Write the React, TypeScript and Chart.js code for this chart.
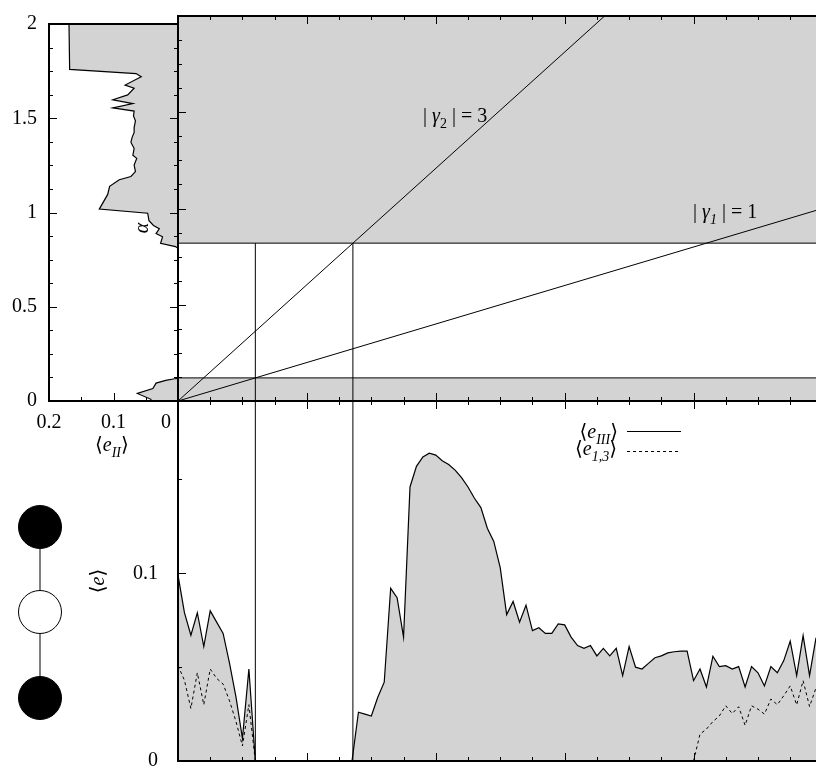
import React, { useEffect, useRef } from "react";
import { Chart, registerables } from "chart.js";
Chart.register(...registerables);

const W = 816;
const H = 769;
const HC = 810; // bottom-panel canvas is a little taller than the page; the extra part is clipped
const FONT = '"Liberation Serif", "Times New Roman", "DejaVu Serif", serif';
const GRAY = "rgb(211,211,211)";
const BLACK = "#000";
const FS = 20;

// ---- shared horizontal axis (main + bottom panels)
const X_MIN = 0;
const X_MAX = 4.95;
const X_MINOR = 0.25;
const X_MAJOR = 1;

// ---- alpha axis
const ALPHA_MIN = 0;
const ALPHA_MAX = 2;
const ALPHA_MINOR = 0.125;
const ALPHA_MAJOR = 0.5;
const alphaTickLabels = [0, 0.5, 1, 1.5, 2];

// shaded alpha bands
const bandLowTop = 0.12;
const bandHighBottom = 0.82;

// |gamma| = const lines (end points)
const gamma1X = [0, 4.95];
const gamma1Y = [0, 0.99];
const gamma2X = [0, 3.31];
const gamma2Y = [0, 2.0];

// vertical guide lines (x positions)
const guideX = [0.6, 1.357];

// ---- left panel <e_II>(alpha)
const E2_MIN = 0;
const E2_MAX = 0.2;
const E2_MINOR = 0.05;
const E2_MAJOR = 0.1;
const e2TickLabels = [0.2, 0.1];
const eIIAlpha = [2.0, 1.759, 1.737, 1.72, 1.676, 1.659, 1.624, 1.598, 1.578, 1.555, 1.538, 1.512, 1.486, 1.45, 1.425, 1.4, 1.373, 1.339, 1.304, 1.287, 1.252, 1.217, 1.191, 1.174, 1.139, 1.096, 1.018, 0.996, 0.957, 0.931, 0.914, 0.888, 0.871, 0.836, 0.819, 0.81, 0.12, 0.118, 0.109, 0.095, 0.066, 0.04, 0.009, 0.0];
const eIIValue = [0.169, 0.168, 0.065, 0.057, 0.082, 0.068, 0.078, 0.101, 0.07, 0.101, 0.068, 0.069, 0.066, 0.068, 0.068, 0.071, 0.073, 0.068, 0.07, 0.064, 0.068, 0.066, 0.073, 0.091, 0.106, 0.109, 0.122, 0.047, 0.045, 0.038, 0.029, 0.034, 0.024, 0.027, 0.004, 0, 0, 0.005, 0.019, 0.034, 0.039, 0.063, 0.042, 0.042];

// ---- bottom panel <e>
const E_MIN = 0;
const E_MAX = 0.1918;
const E_MINOR = 0.05;
const E_MAJOR = 0.1;
const eTickLabels = [0, 0.1];

const eIIIx = [0.0, 0.05, 0.1, 0.15, 0.2, 0.25, 0.3, 0.35, 0.4, 0.45, 0.5, 0.55, 0.6, 1.35, 1.4, 1.45, 1.5, 1.55, 1.6, 1.65, 1.7, 1.75, 1.8, 1.85, 1.9, 1.95, 2.0, 2.05, 2.1, 2.15, 2.2, 2.25, 2.3, 2.35, 2.4, 2.45, 2.5, 2.55, 2.6, 2.65, 2.7, 2.75, 2.8, 2.85, 2.9, 2.95, 3.0, 3.05, 3.1, 3.15, 3.2, 3.25, 3.3, 3.35, 3.4, 3.45, 3.5, 3.55, 3.6, 3.65, 3.7, 3.75, 3.8, 3.85, 3.9, 3.95, 4.0, 4.05, 4.1, 4.15, 4.2, 4.25, 4.3, 4.35, 4.4, 4.45, 4.5, 4.55, 4.6, 4.65, 4.7, 4.75, 4.8, 4.85, 4.9, 4.95];
const eIIIy = [0.099, 0.079, 0.067, 0.079, 0.061, 0.08, 0.074, 0.068, 0.052, 0.034, 0.012, 0.049, 0.0, 0.0, 0.026, 0.025, 0.024, 0.034, 0.042, 0.092, 0.087, 0.066, 0.146, 0.157, 0.162, 0.164, 0.163, 0.16, 0.158, 0.155, 0.151, 0.146, 0.14, 0.135, 0.124, 0.117, 0.103, 0.078, 0.085, 0.074, 0.083, 0.0695, 0.071, 0.068, 0.068, 0.073, 0.0725, 0.066, 0.0615, 0.06, 0.0615, 0.056, 0.06, 0.056, 0.06, 0.0455, 0.061, 0.05, 0.049, 0.052, 0.055, 0.056, 0.0576, 0.0582, 0.0585, 0.0585, 0.0428, 0.049, 0.0394, 0.0558, 0.0503, 0.0508, 0.049, 0.0503, 0.0394, 0.0503, 0.047, 0.04, 0.0503, 0.047, 0.0535, 0.0638, 0.0455, 0.0668, 0.0455, 0.0656];

const e13x = [0.0, 0.05, 0.1, 0.15, 0.2, 0.25, 0.3, 0.35, 0.4, 0.45, 0.5, 0.55, 0.6, 2.0, 4.0, 4.05, 4.1, 4.15, 4.2, 4.25, 4.3, 4.35, 4.4, 4.45, 4.5, 4.55, 4.6, 4.65, 4.7, 4.75, 4.8, 4.85, 4.9, 4.95];
const e13y = [0.0508, 0.043, 0.028, 0.047, 0.03, 0.049, 0.044, 0.041, 0.032, 0.021, 0.008, 0.03, 0.0, null, 0.0, 0.0143, 0.017, 0.021, 0.024, 0.0294, 0.0253, 0.0289, 0.019, 0.0294, 0.0276, 0.025, 0.033, 0.03, 0.0348, 0.04, 0.0299, 0.0428, 0.029, 0.039];

// ---------------------------------------------------------------------------
type Seg = { t: string; it?: boolean; sub?: boolean };

function drawRich(ctx: any, segs: Seg[], x: number, y: number, size: number, align: "left" | "right" | "center") {
  const subSize = Math.round(size * 0.72);
  const font = (s: Seg) => `${s.it ? "italic " : ""}${s.sub ? subSize : size}px ${FONT}`;
  let total = 0;
  const widths = segs.map((s) => {
    ctx.font = font(s);
    const w = ctx.measureText(s.t).width;
    total += w;
    return w;
  });
  let cx = align === "left" ? x : align === "right" ? x - total : x - total / 2;
  ctx.textAlign = "left";
  ctx.textBaseline = "alphabetic";
  ctx.fillStyle = BLACK;
  segs.forEach((s, i) => {
    ctx.font = font(s);
    ctx.fillText(s.t, cx, y + (s.sub ? size * 0.28 : 0));
    cx += widths[i];
  });
}

const isStep = (v: number, s: number) => Math.abs(v / s - Math.round(v / s)) < 1e-6;
const inList = (v: number, arr: number[]) => arr.some((a) => Math.abs(a - v) < 1e-6);
const fmt = (v: number) => String(+Number(v).toFixed(3));
const pts = (xs: number[], ys: (number | null)[]) => xs.map((x, i) => ({ x, y: ys[i] }));

type FrameCfg = {
  sides: string[];
  xTicks: string[];
  yTicks: string[];
  xStep: number;
  xMajor: number;
  yStep: number;
  yMajor: number;
};

function framePlugin(cfg: FrameCfg) {
  return {
    id: "frameTicks",
    afterDatasetsDraw(chart: any) {
      const { ctx, chartArea: a, scales } = chart;
      const xs = scales.x;
      const ys = scales.y;
      ctx.save();
      ctx.strokeStyle = BLACK;
      ctx.lineWidth = 1;
      ctx.beginPath();
      for (const t of xs.ticks) {
        const v = t.value;
        if (!isStep(v, cfg.xStep)) continue;
        const p = Math.round(xs.getPixelForValue(v)) + 0.5;
        if (p < a.left - 1 || p > a.right + 1) continue;
        const len = isStep(v, cfg.xMajor) ? 8 : 4;
        if (cfg.xTicks.includes("bottom")) {
          ctx.moveTo(p, a.bottom);
          ctx.lineTo(p, a.bottom - len);
        }
        if (cfg.xTicks.includes("top")) {
          ctx.moveTo(p, a.top);
          ctx.lineTo(p, a.top + len);
        }
      }
      for (const t of ys.ticks) {
        const v = t.value;
        if (!isStep(v, cfg.yStep)) continue;
        const p = Math.round(ys.getPixelForValue(v)) + 0.5;
        if (p < a.top - 1 || p > a.bottom + 1) continue;
        const len = isStep(v, cfg.yMajor) ? 8 : 4;
        if (cfg.yTicks.includes("left")) {
          ctx.moveTo(a.left, p);
          ctx.lineTo(a.left + len, p);
        }
        if (cfg.yTicks.includes("right")) {
          ctx.moveTo(a.right, p);
          ctx.lineTo(a.right - len, p);
        }
      }
      ctx.stroke();
      ctx.lineWidth = 2;
      ctx.beginPath();
      if (cfg.sides.includes("top")) {
        ctx.moveTo(a.left - 1, a.top);
        ctx.lineTo(a.right + 1, a.top);
      }
      if (cfg.sides.includes("bottom")) {
        ctx.moveTo(a.left - 1, a.bottom);
        ctx.lineTo(a.right + 1, a.bottom);
      }
      if (cfg.sides.includes("left")) {
        ctx.moveTo(a.left, a.top);
        ctx.lineTo(a.left, a.bottom);
      }
      if (cfg.sides.includes("right")) {
        ctx.moveTo(a.right, a.top);
        ctx.lineTo(a.right, a.bottom);
      }
      ctx.stroke();
      ctx.restore();
    },
  };
}

const baseOpts = {
  responsive: false,
  animation: false as const,
  devicePixelRatio: 1,
  events: [] as any[],
  plugins: { legend: { display: false }, tooltip: { enabled: false } },
};

const hiddenGrid = { display: false, drawTicks: false };
const tickFont = { family: FONT, size: FS };

// ---------------- left panel ----------------
function cfgLeft(): any {
  return {
    type: "line",
    data: {
      datasets: [
        {
          data: pts(eIIValue, eIIAlpha),
          borderColor: BLACK,
          borderWidth: 1.2,
          backgroundColor: GRAY,
          fill: "origin",
          pointRadius: 0,
          tension: 0,
        },
      ],
    },
    options: {
      ...baseOpts,
      indexAxis: "y",
      layout: { padding: { top: 16, right: W - 178, left: 0, bottom: 0 } },
      scales: {
        x: {
          type: "linear",
          position: "bottom",
          reverse: true,
          min: E2_MIN,
          max: E2_MAX,
          grid: hiddenGrid,
          border: { display: false },
          ticks: {
            stepSize: E2_MINOR,
            maxTicksLimit: 1000,
            includeBounds: false,
            autoSkip: false,
            maxRotation: 0,
            minRotation: 0,
            padding: 10,
            color: BLACK,
            font: tickFont,
            callback: (v: number) => (inList(v, e2TickLabels) ? fmt(v) : ""),
          },
          afterFit: (s: any) => {
            s.height = H - 401;
          },
        },
        y: {
          type: "linear",
          position: "left",
          min: ALPHA_MIN,
          max: ALPHA_MAX,
          grid: hiddenGrid,
          border: { display: false },
          ticks: {
            stepSize: ALPHA_MINOR,
            maxTicksLimit: 1000,
            includeBounds: false,
            autoSkip: false,
            padding: 12,
            color: BLACK,
            font: tickFont,
            callback: (v: number) => (inList(v, alphaTickLabels) ? fmt(v) : ""),
          },
          afterFit: (s: any) => {
            s.width = 49;
          },
        },
      },
    },
    plugins: [
      framePlugin({
        sides: ["top", "bottom", "left", "right"],
        xTicks: ["bottom"],
        yTicks: ["left", "right"],
        xStep: E2_MINOR,
        xMajor: E2_MAJOR,
        yStep: ALPHA_MINOR,
        yMajor: ALPHA_MAJOR,
      }),
      {
        id: "leftText",
        afterDraw(chart: any) {
          const { ctx } = chart;
          const xs = chart.scales.x;
          ctx.save();
          // zero label of the <e_II> axis
          ctx.font = `${FS}px ${FONT}`;
          ctx.fillStyle = BLACK;
          ctx.textAlign = "center";
          ctx.textBaseline = "middle";
          ctx.fillText("0", xs.getPixelForValue(0) - 12, xs.top + 22);
          // axis title <e_II>
          drawRich(ctx, [{ t: "⟨" }, { t: "e", it: true }, { t: "II", it: true, sub: true }, { t: "⟩" }], 95, 451, FS, "left");
          // alpha label (rotated)
          ctx.translate(143, 228);
          ctx.rotate(-Math.PI / 2);
          drawRich(ctx, [{ t: "α", it: true }], 0, 5, FS, "center");
          ctx.restore();
        },
      },
    ],
  };
}

// ---------------- main (top) panel ----------------
function cfgMain(): any {
  const lineDs = (data: any[]) => ({
    data,
    borderColor: BLACK,
    borderWidth: 1,
    pointRadius: 0,
    fill: false,
    tension: 0,
    order: 1,
  });
  return {
    type: "line",
    data: {
      datasets: [
        lineDs(pts(gamma2X, gamma2Y)),
        lineDs(pts(gamma1X, gamma1Y)),
        lineDs(pts([guideX[0], guideX[0]], [ALPHA_MIN, bandHighBottom])),
        lineDs(pts([guideX[1], guideX[1]], [ALPHA_MIN, bandHighBottom])),
        {
          data: pts([X_MIN, X_MAX], [bandHighBottom, bandHighBottom]),
          borderColor: BLACK,
          borderWidth: 1,
          backgroundColor: GRAY,
          fill: "end",
          pointRadius: 0,
          order: 2,
        },
        {
          data: pts([X_MIN, X_MAX], [bandLowTop, bandLowTop]),
          borderColor: BLACK,
          borderWidth: 1,
          backgroundColor: GRAY,
          fill: "start",
          pointRadius: 0,
          order: 2,
        },
      ],
    },
    options: {
      ...baseOpts,
      layout: { padding: { top: 16, right: 0, left: 0, bottom: 0 } },
      scales: {
        x: {
          type: "linear",
          min: X_MIN,
          max: X_MAX,
          grid: hiddenGrid,
          border: { display: false },
          ticks: { display: false, stepSize: X_MINOR, maxTicksLimit: 1000, includeBounds: false },
          afterFit: (s: any) => {
            s.height = H - 401;
          },
        },
        y: {
          type: "linear",
          min: ALPHA_MIN,
          max: ALPHA_MAX,
          grid: hiddenGrid,
          border: { display: false },
          ticks: { display: false, stepSize: ALPHA_MINOR, maxTicksLimit: 1000, includeBounds: false },
          afterFit: (s: any) => {
            s.width = 178;
          },
        },
      },
    },
    plugins: [
      framePlugin({
        sides: ["top", "bottom", "left"],
        xTicks: ["top", "bottom"],
        yTicks: ["left"],
        xStep: X_MINOR,
        xMajor: X_MAJOR,
        yStep: ALPHA_MINOR,
        yMajor: ALPHA_MAJOR,
      }),
      {
        id: "mainText",
        afterDraw(chart: any) {
          const { ctx } = chart;
          ctx.save();
          drawRich(ctx, [{ t: "| " }, { t: "γ", it: true }, { t: "2", sub: true }, { t: " | = 3" }], 423, 122, FS, "left");
          drawRich(ctx, [{ t: "| " }, { t: "γ", it: true }, { t: "1", it: true, sub: true }, { t: " | = 1" }], 693, 218, FS, "left");
          ctx.restore();
        },
      },
    ],
  };
}

// ---------------- bottom panel ----------------
function cfgBottom(): any {
  const guide = (gx: number) => ({
    data: pts([gx, gx], [E_MIN, E_MAX]),
    borderColor: BLACK,
    borderWidth: 1,
    pointRadius: 0,
    fill: false,
    order: 1,
  });
  return {
    type: "line",
    data: {
      datasets: [
        {
          label: "e13",
          data: pts(e13x, e13y),
          borderColor: BLACK,
          borderWidth: 1,
          borderDash: [3, 3],
          pointRadius: 0,
          fill: false,
          tension: 0,
          spanGaps: false,
          order: 1,
        },
        guide(guideX[0]),
        guide(guideX[1]),
        {
          label: "eIII",
          data: pts(eIIIx, eIIIy),
          borderColor: BLACK,
          borderWidth: 1.2,
          backgroundColor: GRAY,
          fill: "origin",
          pointRadius: 0,
          tension: 0,
          order: 3,
        },
      ],
    },
    options: {
      ...baseOpts,
      layout: { padding: { top: 401, right: 0, left: 0, bottom: 0 } },
      scales: {
        x: {
          type: "linear",
          min: X_MIN,
          max: X_MAX,
          grid: hiddenGrid,
          border: { display: false },
          ticks: { display: false, stepSize: X_MINOR, maxTicksLimit: 1000, includeBounds: false },
          afterFit: (s: any) => {
            s.height = HC - 761;
          },
        },
        y: {
          type: "linear",
          min: E_MIN,
          max: E_MAX,
          grid: hiddenGrid,
          border: { display: false },
          ticks: {
            stepSize: E_MINOR,
            maxTicksLimit: 1000,
            includeBounds: false,
            autoSkip: false,
            padding: 20,
            color: BLACK,
            font: tickFont,
            callback: (v: number) => (inList(v, eTickLabels) ? fmt(v) : ""),
          },
          afterFit: (s: any) => {
            s.width = 178;
          },
        },
      },
    },
    plugins: [
      framePlugin({
        sides: ["top", "bottom", "left"],
        xTicks: ["top", "bottom"],
        yTicks: ["left"],
        xStep: X_MINOR,
        xMajor: X_MAJOR,
        yStep: E_MINOR,
        yMajor: E_MAJOR,
      }),
      {
        id: "bottomText",
        afterDraw(chart: any) {
          const { ctx } = chart;
          ctx.save();
          // legend
          drawRich(ctx, [{ t: "⟨" }, { t: "e", it: true }, { t: "III", it: true, sub: true }, { t: "⟩" }], 618, 438, FS, "right");
          drawRich(ctx, [{ t: "⟨" }, { t: "e", it: true }, { t: "1,3", it: true, sub: true }, { t: "⟩" }], 617, 455, FS, "right");
          ctx.strokeStyle = BLACK;
          ctx.lineWidth = 1.2;
          ctx.beginPath();
          ctx.moveTo(627, 431.5);
          ctx.lineTo(681, 431.5);
          ctx.stroke();
          ctx.lineWidth = 1;
          ctx.setLineDash([3, 3]);
          ctx.beginPath();
          ctx.moveTo(627, 451.5);
          ctx.lineTo(681, 451.5);
          ctx.stroke();
          ctx.setLineDash([]);
          // molecule sketch
          ctx.lineWidth = 1;
          ctx.beginPath();
          ctx.moveTo(40, 527);
          ctx.lineTo(40, 698);
          ctx.stroke();
          const circ = (cy: number, fill: string) => {
            ctx.beginPath();
            ctx.arc(40, cy, 21.5, 0, Math.PI * 2);
            ctx.fillStyle = fill;
            ctx.fill();
            ctx.strokeStyle = BLACK;
            ctx.stroke();
          };
          circ(527, BLACK);
          circ(612, "#fff");
          circ(698, BLACK);
          // rotated y title <e>
          ctx.translate(98, 581);
          ctx.rotate(-Math.PI / 2);
          drawRich(ctx, [{ t: "⟨" }, { t: "e", it: true }, { t: "⟩" }], 0, 6, FS, "center");
          ctx.restore();
        },
      },
    ],
  };
}

export default function App() {
  const refA = useRef<HTMLCanvasElement>(null);
  const refB = useRef<HTMLCanvasElement>(null);
  const refC = useRef<HTMLCanvasElement>(null);

  useEffect(() => {
    const charts: Chart[] = [];
    if (refC.current) charts.push(new Chart(refC.current, cfgBottom()));
    if (refB.current) charts.push(new Chart(refB.current, cfgMain()));
    if (refA.current) charts.push(new Chart(refA.current, cfgLeft()));
    return () => charts.forEach((c) => c.destroy());
  }, []);

  const cs: React.CSSProperties = { position: "absolute", left: 0, top: 0, width: W, height: H };
  const csC: React.CSSProperties = { position: "absolute", left: 0, top: 0, width: W, height: HC };
  return (
    <div style={{ position: "fixed", left: 0, top: 0, width: W, height: H, background: "#fff", overflow: "hidden" }}>
      <canvas ref={refC} width={W} height={HC} style={csC} />
      <canvas ref={refB} width={W} height={H} style={cs} />
      <canvas ref={refA} width={W} height={H} style={cs} />
    </div>
  );
}
